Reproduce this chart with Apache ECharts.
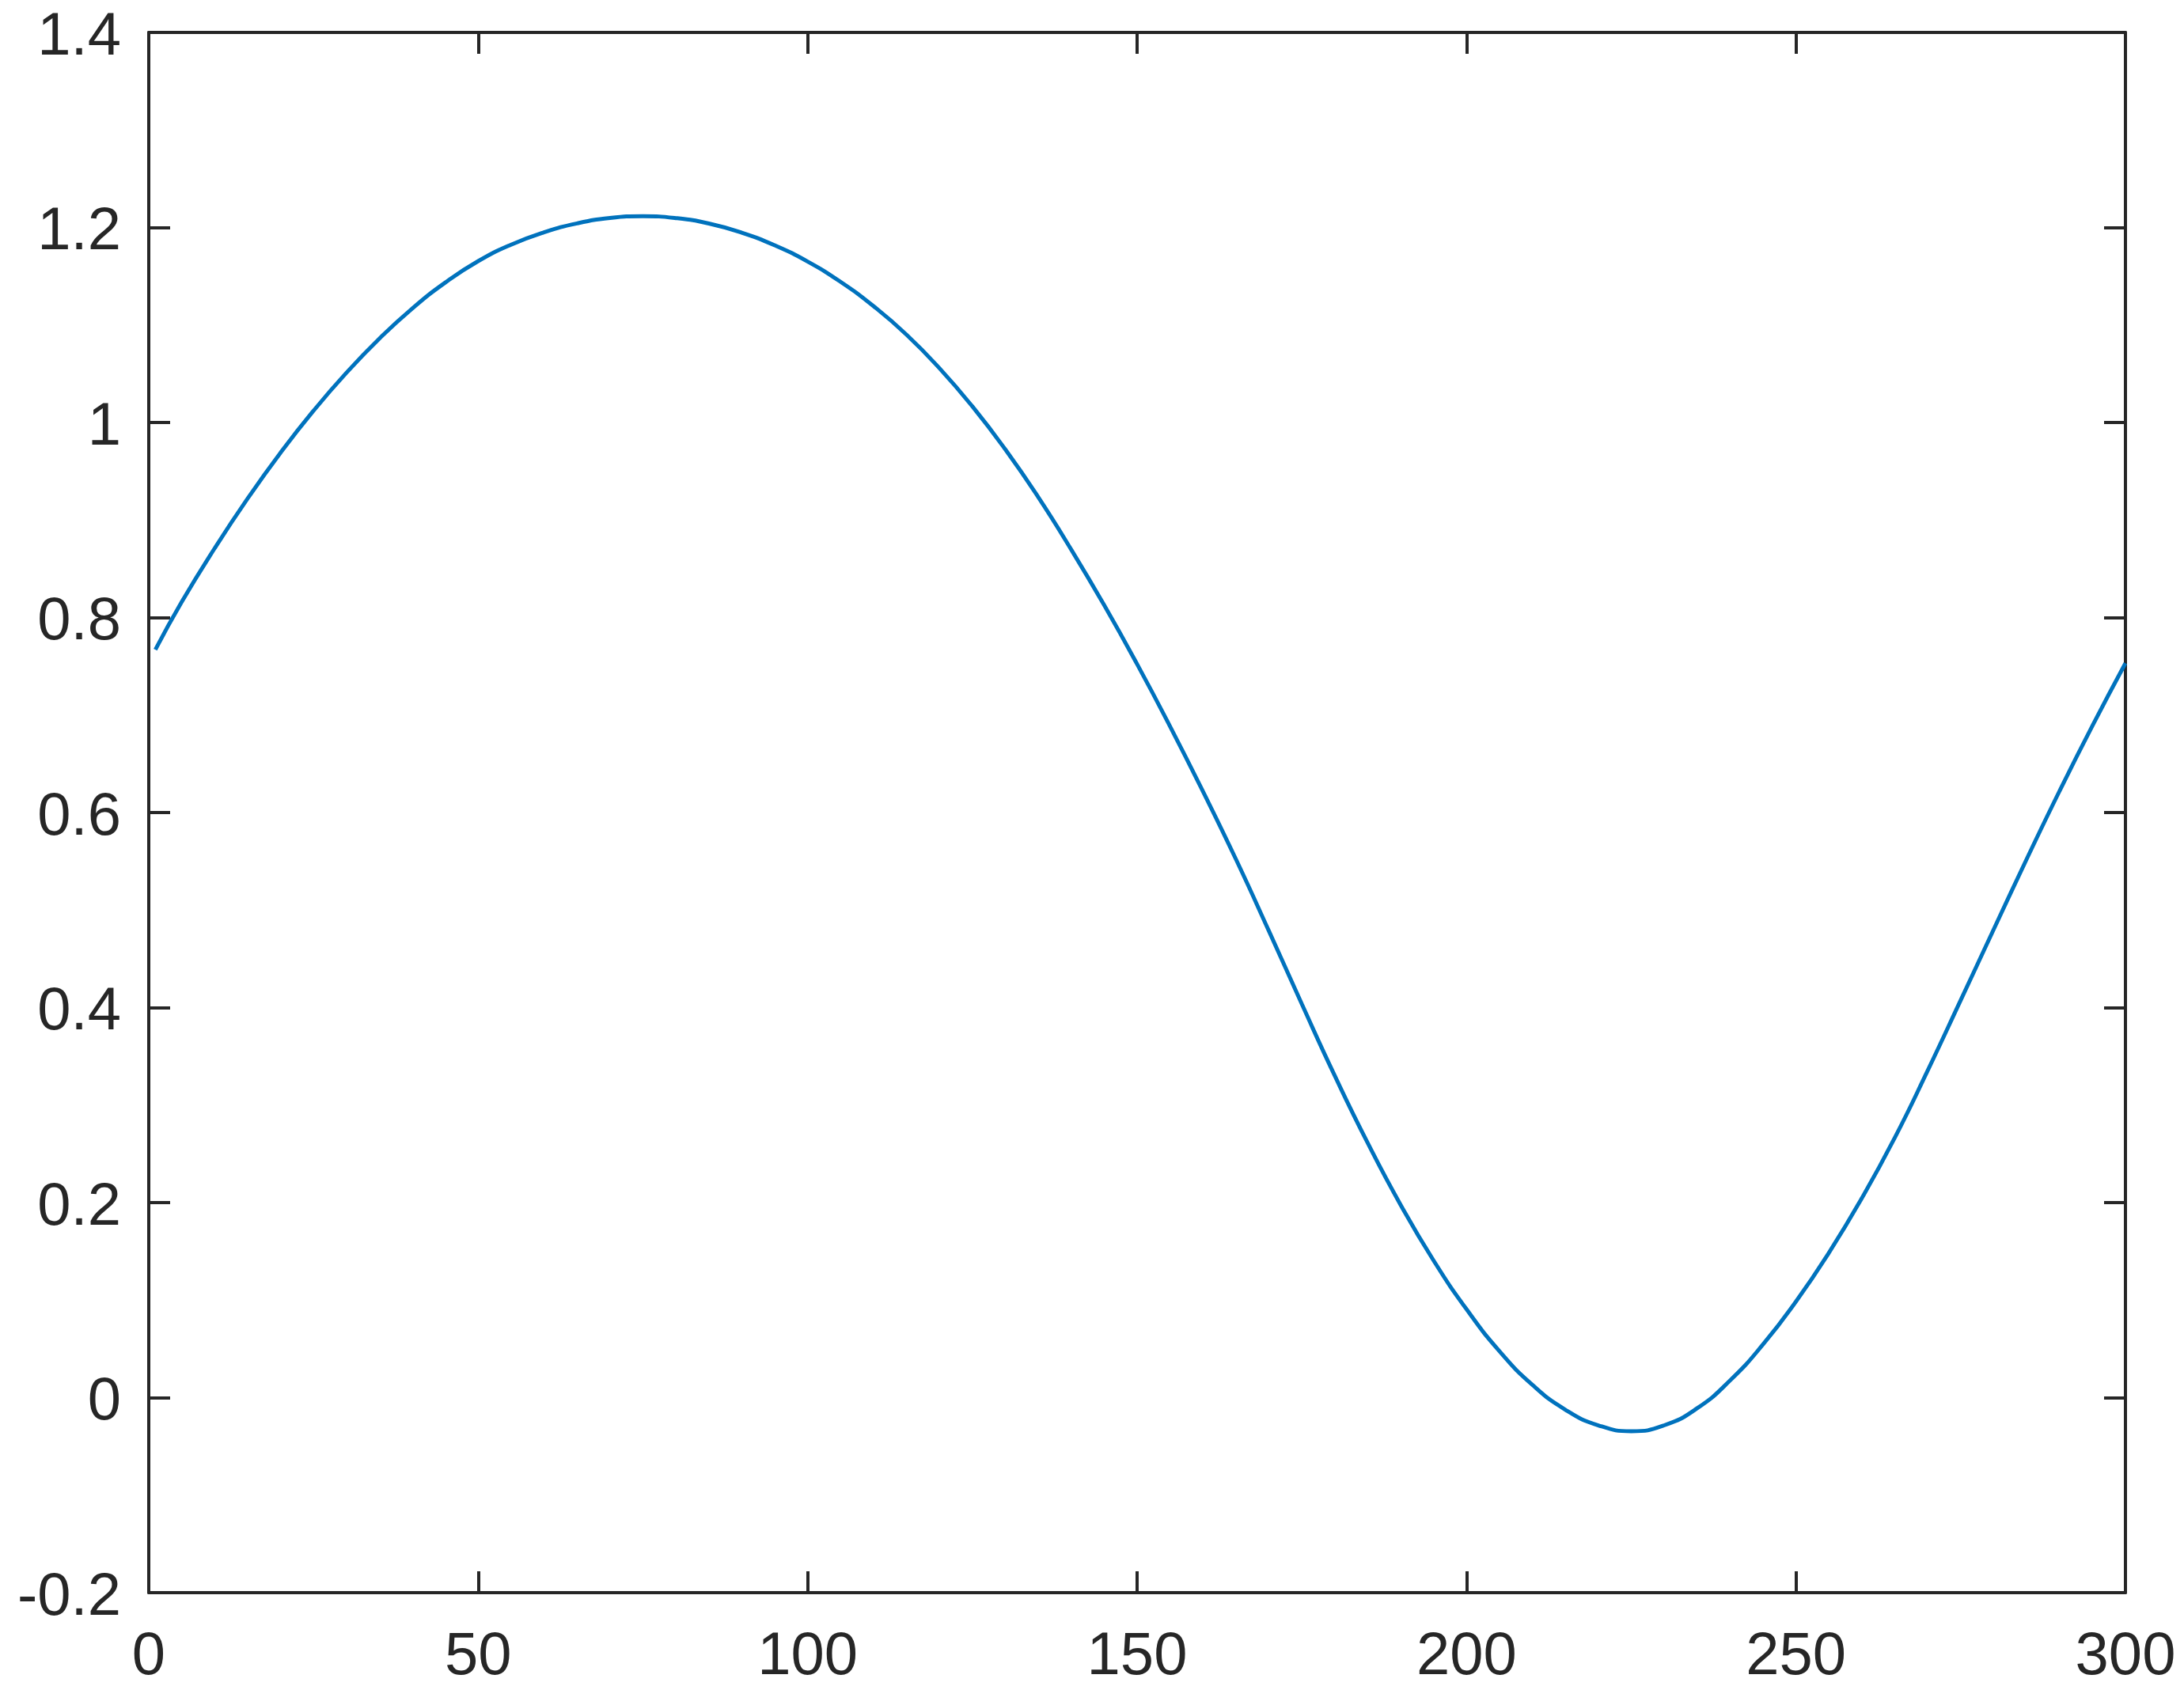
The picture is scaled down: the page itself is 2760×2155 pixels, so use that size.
<!DOCTYPE html>
<html>
<head>
<meta charset="utf-8">
<script src="https://cdn.jsdelivr.net/npm/echarts@6/dist/echarts.min.js"></script>
<style>
html,body{margin:0;padding:0;background:#fff;}
#chart{width:2760px;height:2155px;}
</style>
</head>
<body>
<div id="chart"></div>
<script>
const xValues = [1,5,10,15,20,25,30,35,40,45,50,55,60,65,70,75,80,85,90,95,100,105,110,115,120,125,130,135,140,145,150,155,160,165,170,175,180,185,190,195,200,205,210,215,220,225,230,235,240,245,250,255,260,265,270,275,280,285,290,295,300];
const yValues = [0.767,0.816,0.871,0.922,0.969,1.012,1.051,1.086,1.117,1.1435,1.1655,1.1824,1.1951,1.2042,1.2097,1.2115,1.2096,1.2041,1.1947,1.1817,1.165,1.1442,1.1193,1.0901,1.0557,1.0165,0.9724,0.9234,0.8697,0.8127,0.7522,0.6884,0.6216,0.5521,0.4786,0.4036,0.3301,0.2611,0.1976,0.1406,0.0906,0.0476,0.0131,-0.0124,-0.0284,-0.0344,-0.0284,-0.0109,0.0176,0.0546,0.0986,0.1486,0.2046,0.2666,0.3356,0.4076,0.4801,0.5521,0.6221,0.6891,0.7531];
const xTicks = {min: 0, max: 300, interval: 50};
const yTicks = {min: -0.2, max: 1.4, interval: 0.2};

const axisColor = '#262626';
const fontFamily = '"Liberation Sans", Arial, Helvetica, sans-serif';
const lineStyle = {color: axisColor, width: 4};
const tickStyle = {show: true, inside: true, length: 27, lineStyle: {color: axisColor, width: 4}};
const labelStyle = {color: axisColor, fontSize: 76, fontFamily: fontFamily};

function axisLine() { return {show: true, onZero: false, lineStyle: lineStyle}; }

const chart = echarts.init(document.getElementById('chart'), null, {renderer: 'canvas'});
chart.setOption({
  backgroundColor: '#ffffff',
  animation: false,
  grid: {left: 188, top: 41, right: 74, bottom: 142, containLabel: false},
  xAxis: [
    {type: 'value', position: 'bottom', min: xTicks.min, max: xTicks.max, interval: xTicks.interval,
     axisLine: axisLine(), axisTick: tickStyle,
     axisLabel: Object.assign({margin: 44}, labelStyle), splitLine: {show: false}},
    {type: 'value', position: 'top', min: xTicks.min, max: xTicks.max, interval: xTicks.interval,
     axisLine: axisLine(), axisTick: tickStyle,
     axisLabel: {show: false}, splitLine: {show: false}}
  ],
  yAxis: [
    {type: 'value', position: 'left', min: yTicks.min, max: yTicks.max, interval: yTicks.interval,
     axisLine: axisLine(), axisTick: tickStyle,
     axisLabel: Object.assign({margin: 35, verticalAlign: 'top', lineHeight: 14}, labelStyle), splitLine: {show: false}},
    {type: 'value', position: 'right', min: yTicks.min, max: yTicks.max, interval: yTicks.interval,
     axisLine: axisLine(), axisTick: tickStyle,
     axisLabel: {show: false}, splitLine: {show: false}}
  ],
  series: [{
    type: 'line',
    xAxisIndex: 0,
    yAxisIndex: 0,
    data: xValues.map((x, i) => [x, yValues[i]]),
    showSymbol: false,
    smooth: true,
    lineStyle: {color: '#0072BD', width: 5},
    z: 1
  }]
});
</script>
</body>
</html>
